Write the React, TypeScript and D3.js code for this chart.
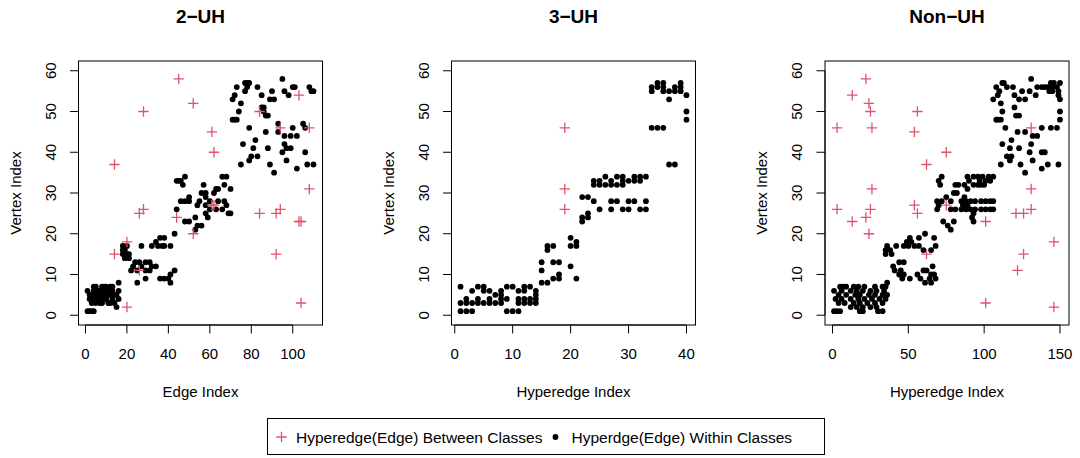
import React from "react";
import * as d3 from "d3";

type Pt = [number, number];

// Labels and ticks
const panelTitles = ["2−UH", "3−UH", "Non−UH"];
const xAxisTitles = ["Edge Index", "Hyperedge Index", "Hyperedge Index"];
const yAxisTitle = "Vertex Index";
const xTicks2UH = [0, 20, 40, 60, 80, 100];
const xTicks3UH = [0, 10, 20, 30, 40];
const xTicksNonUH = [0, 50, 100, 150];
const yTicks = [0, 10, 20, 30, 40, 50, 60];
const legendLabels = ["Hyperedge(Edge) Between Classes", "Hyperdge(Edge) Within Classes"];

// Edge count per panel (x range of data)
const edgeCounts = [110, 40, 150];

// 2-UH: [edge index, vertex index]
const uh2Within: Pt[] = [
  [1, 1], [2, 1], [3, 1], [4, 1], [1, 6], [2, 4], [2, 5], [4, 7], [5, 7], [8, 7], [10, 7], [12, 7],
  [4, 6], [7, 6], [9, 6], [11, 6], [13, 6], [16, 6], [3, 5], [6, 5], [8, 5], [12, 5], [15, 5],
  [4, 4], [8, 4], [10, 4], [13, 4], [16, 4], [5, 3], [7, 3], [8, 3], [11, 3], [14, 3], [15, 2],
  [16, 8], [6, 6], [9, 4], [11, 5], [13, 7], [3, 3], [6, 4], [10, 5], [12, 3], [14, 5], [5, 5], [9, 7],
  [18, 16], [18, 17], [20, 15], [21, 15], [20, 17], [19, 16], [18, 15], [27, 17], [24, 13], [26, 13],
  [29, 13], [31, 13], [22, 11], [25, 11], [29, 11], [31, 11], [25, 8], [29, 9], [32, 12], [34, 12],
  [23, 12], [27, 12], [36, 9], [38, 9], [41, 10], [43, 11], [41, 8], [40, 9], [32, 17], [34, 18],
  [36, 19], [38, 19], [38, 17], [41, 17], [37, 17], [35, 17], [43, 20], [19, 14], [21, 14],
  [44, 26], [46, 28], [48, 28], [50, 29], [50, 23], [48, 23], [53, 24], [54, 22], [53, 21], [56, 22],
  [54, 27], [56, 30], [58, 29], [58, 25], [60, 26], [59, 24], [62, 30], [64, 28], [63, 26], [66, 26],
  [67, 28], [69, 25], [70, 25], [58, 27], [50, 28], [55, 28], [60, 28], [68, 27], [44, 33], [45, 33],
  [48, 34], [47, 32], [57, 32], [58, 30], [64, 31], [66, 34], [68, 34], [67, 32], [63, 31], [70, 31],
  [46, 33],
  [73, 56], [72, 54], [71, 53], [77, 57], [79, 57], [78, 56], [77, 55], [83, 56], [85, 54], [90, 55],
  [89, 53], [91, 53], [75, 52], [74, 50], [71, 48], [73, 48], [86, 51], [87, 49], [88, 49], [85, 51],
  [79, 46], [76, 42], [81, 41], [82, 43], [87, 45], [88, 41], [80, 39], [83, 39], [79, 38], [75, 37],
  [89, 37], [91, 35], [93, 47], [93, 45], [96, 44], [99, 44], [102, 44], [96, 42], [97, 41], [99, 41],
  [95, 40], [97, 38], [102, 36], [100, 46], [105, 47], [106, 40], [107, 37], [110, 37], [95, 58],
  [96, 55], [98, 54], [100, 56], [101, 56], [108, 56], [109, 55], [110, 55], [78, 57], [72, 48],
  [106, 46], [86, 50],
];
const uh2Between: Pt[] = [
  [45, 58], [28, 50], [52, 52], [61, 45], [62, 40], [14, 37], [103, 54], [84, 50], [94, 46], [108, 46],
  [108, 31], [28, 26], [26, 25], [61, 27], [62, 27], [44, 24], [52, 20], [20, 18], [14, 15], [26, 11],
  [20, 2], [84, 25], [92, 25], [94, 26], [103, 23], [104, 23], [92, 15], [104, 3],
];

// 3-UH
const uh3Within: Pt[] = [
  [1, 1], [2, 1], [3, 1], [9, 1], [10, 1], [11, 1],
  [1, 3], [2, 3], [3, 3], [4, 3], [5, 3], [6, 3], [7, 3], [8, 3], [11, 3], [12, 3], [13, 3], [14, 3],
  [2, 4], [4, 4], [6, 4], [8, 4], [9, 4], [11, 4], [12, 4], [13, 4], [14, 4],
  [7, 5], [8, 5], [14, 5],
  [3, 6], [5, 6], [6, 6], [8, 6], [11, 6], [12, 6], [14, 6],
  [1, 7], [4, 7], [5, 7], [9, 7], [10, 7], [12, 7], [13, 7],
  [15, 8], [16, 8], [17, 9], [18, 9], [21, 9], [18, 10], [15, 11], [20, 12], [15, 13], [17, 13], [18, 13],
  [16, 16], [16, 17], [17, 17], [20, 17], [21, 17], [21, 18], [20, 19],
  [22, 23], [22, 24], [23, 24], [23, 25], [22, 29], [23, 29],
  [25, 26], [27, 26], [29, 26], [30, 26], [32, 26], [33, 26],
  [24, 28], [27, 28], [28, 28], [30, 28], [31, 28], [33, 28],
  [24, 32], [25, 32], [26, 32], [27, 32], [28, 32], [29, 32],
  [24, 33], [25, 33], [27, 33], [29, 33], [30, 33], [31, 33], [32, 33],
  [26, 34], [28, 34], [29, 34], [31, 34], [32, 34], [33, 34],
  [34, 46], [35, 46], [36, 46], [37, 37], [38, 37],
  [34, 55], [36, 55], [37, 55], [38, 55], [39, 55], [34, 56], [35, 56], [36, 56], [38, 56], [39, 56],
  [35, 57], [36, 57], [39, 57], [37, 53], [40, 54], [40, 50], [40, 48],
];
const uh3Between: Pt[] = [[19, 26], [19, 31], [19, 46]];

// Non-UH
const nonUhWithin: Pt[] = [
  [1, 6], [2, 4], [1, 1], [3, 1], [5, 1], [18, 1], [20, 1], [30, 1], [33, 1],
  [5, 7], [7, 7], [9, 7], [14, 7], [17, 7], [21, 7], [28, 7], [33, 7], [35, 7],
  [6, 6], [12, 6], [16, 6], [20, 6], [25, 6], [29, 6], [34, 6],
  [4, 5], [9, 5], [15, 5], [18, 5], [24, 5], [28, 5], [33, 5], [36, 5],
  [6, 4], [12, 4], [17, 4], [21, 4], [26, 4], [31, 4], [35, 4],
  [4, 3], [8, 3], [14, 3], [18, 3], [23, 3], [28, 3], [33, 3],
  [12, 2], [16, 2], [20, 2], [25, 2], [29, 2], [36, 8],
  [38, 16], [36, 17], [39, 15], [35, 16], [42, 17], [49, 18], [51, 19], [52, 18], [57, 17], [61, 20],
  [57, 19], [67, 19], [68, 17], [65, 16], [60, 16], [50, 17], [54, 17], [47, 17], [35, 15],
  [40, 12], [44, 13], [47, 13], [45, 11], [44, 10], [46, 9], [51, 9], [56, 10], [58, 9], [61, 8],
  [64, 9], [60, 11], [66, 12], [65, 10], [68, 9], [65, 8], [41, 11], [47, 10], [62, 11], [67, 10],
  [69, 28], [70, 27], [69, 26], [72, 28], [75, 29], [78, 28], [80, 30], [82, 30], [85, 28], [87, 29],
  [88, 28], [91, 28], [94, 28], [98, 28], [101, 28], [104, 28], [106, 28], [78, 26], [81, 26],
  [85, 26], [88, 26], [91, 26], [94, 26], [98, 26], [101, 26], [104, 26], [106, 26], [73, 23],
  [76, 22], [78, 21], [80, 23], [93, 25], [93, 23], [92, 24], [89, 27], [86, 27],
  [70, 33], [72, 34], [71, 32], [81, 32], [83, 32], [87, 32], [89, 34], [90, 33], [93, 34], [96, 34],
  [97, 33], [99, 34], [101, 33], [103, 34], [104, 33], [106, 34], [93, 32], [98, 32], [100, 32],
  [96, 32], [89, 31],
  [108, 48], [111, 48], [106, 53], [109, 54], [110, 55], [108, 56], [112, 57], [113, 57], [115, 56],
  [119, 56], [120, 54], [125, 55], [130, 55], [131, 58], [134, 54], [135, 56], [138, 56], [140, 56],
  [142, 56], [144, 57], [146, 57], [150, 57], [143, 55], [149, 55], [150, 53], [123, 53], [127, 53],
  [111, 52], [112, 50], [120, 51], [121, 49], [123, 49], [150, 50], [150, 48], [114, 46], [122, 45],
  [127, 45], [132, 44], [135, 44], [138, 46], [144, 46], [148, 46], [112, 42], [118, 43], [117, 41],
  [123, 41], [131, 42], [130, 40], [138, 40], [140, 40], [115, 39], [118, 39], [117, 38], [111, 37],
  [124, 37], [132, 38], [138, 36], [142, 37], [149, 37], [127, 35], [145, 56], [148, 56], [145, 55],
  [149, 54], [109, 48],
];
const nonUhBetween: Pt[] = [
  [22, 58], [13, 54], [24, 52], [25, 50], [3, 46], [26, 46], [56, 50], [54, 45], [75, 40], [62, 37],
  [26, 31], [131, 46], [131, 31], [3, 26], [25, 26], [13, 23], [22, 24], [24, 20], [54, 27], [56, 25],
  [75, 27], [62, 15], [101, 23], [101, 3], [121, 25], [126, 25], [131, 26], [146, 18], [126, 15],
  [122, 11], [146, 2],
];

const W = 1080;
const H = 458;
const RED = "#DF536B";
const FONT = "'Liberation Sans', Arial, Helvetica, sans-serif";
const AXIS_FS = 15;
const plotTop = 61;
const plotBottom = 325;
const panelLefts = [78.5, 451.5, 825];
const panelWidth = 244;

const panelData = [
  { within: uh2Within, between: uh2Between, xTicks: xTicks2UH },
  { within: uh3Within, between: uh3Between, xTicks: xTicks3UH },
  { within: nonUhWithin, between: nonUhBetween, xTicks: xTicksNonUH },
];

// R-style 4% axis padding
const pad = (lo: number, hi: number): [number, number] => {
  const d = (hi - lo) * 0.04;
  return [lo - d, hi + d];
};

function Plus({ x, y, s = 5.2 }: { x: number; y: number; s?: number }) {
  return (
    <path
      d={`M${x - s},${y}H${x + s}M${x},${y - s}V${y + s}`}
      stroke={RED}
      strokeWidth={1.3}
      fill="none"
    />
  );
}

function Panel({ i }: { i: number }) {
  const { within, between, xTicks } = panelData[i];
  const left = panelLefts[i];
  const right = left + panelWidth;
  const x = d3.scaleLinear().domain(pad(1, edgeCounts[i])).range([left, right]);
  const y = d3.scaleLinear().domain(pad(0, 60)).range([plotBottom, plotTop]);
  const cx = (left + right) / 2;
  const cy = (plotTop + plotBottom) / 2;
  const tick = 8.5;
  return (
    <g>
      <text x={cx} y={23} textAnchor="middle" fontWeight="bold" fontSize={19} fontFamily={FONT}>
        {panelTitles[i]}
      </text>
      <rect x={left} y={plotTop} width={right - left} height={plotBottom - plotTop} fill="none" stroke="#000" strokeWidth={1} />
      {/* x axis */}
      <path d={`M${x(xTicks[0])},${plotBottom}H${x(xTicks[xTicks.length - 1])}`} stroke="#000" />
      {xTicks.map((t) => (
        <g key={`xt${t}`}>
          <line x1={x(t)} x2={x(t)} y1={plotBottom} y2={plotBottom + tick} stroke="#000" />
          <text x={x(t)} y={358.5} textAnchor="middle" fontSize={AXIS_FS} fontFamily={FONT}>
            {t}
          </text>
        </g>
      ))}
      <text x={cx} y={396.5} textAnchor="middle" fontSize={AXIS_FS} fontFamily={FONT}>
        {xAxisTitles[i]}
      </text>
      {/* y axis */}
      <path d={`M${left},${y(yTicks[0])}V${y(yTicks[yTicks.length - 1])}`} stroke="#000" />
      {yTicks.map((t) => (
        <g key={`yt${t}`}>
          <line x1={left - tick} x2={left} y1={y(t)} y2={y(t)} stroke="#000" />
          <text
            transform={`translate(${left - 23},${y(t)}) rotate(-90)`}
            textAnchor="middle"
            fontSize={AXIS_FS}
            fontFamily={FONT}
          >
            {t}
          </text>
        </g>
      ))}
      <text
        transform={`translate(${left - 58},${cy}) rotate(-90)`}
        textAnchor="middle"
        fontSize={AXIS_FS}
        fontFamily={FONT}
      >
        {yAxisTitle}
      </text>
      {within.map(([e, v], k) => (
        <circle key={`w${k}`} cx={x(e)} cy={y(v)} r={2.9} fill="#000" />
      ))}
      {between.map(([e, v], k) => (
        <Plus key={`b${k}`} x={x(e)} y={y(v)} />
      ))}
    </g>
  );
}

export default function App() {
  return (
    <svg
      width={W}
      height={H}
      viewBox={`0 0 ${W} ${H}`}
      style={{ position: "fixed", left: 0, top: 0, background: "#fff" }}
    >
      <rect width={W} height={H} fill="#fff" />
      {[0, 1, 2].map((i) => (
        <Panel key={i} i={i} />
      ))}
      {/* legend */}
      <rect x={267.5} y={418.5} width={557} height={36} fill="#fff" stroke="#000" />
      <Plus x={281.5} y={437} />
      <text x={296} y={442.5} fontSize={15.5} fontFamily={FONT}>
        {legendLabels[0]}
      </text>
      <circle cx={555.5} cy={437} r={2.9} fill="#000" />
      <text x={571.5} y={442.5} fontSize={15.5} fontFamily={FONT}>
        {legendLabels[1]}
      </text>
    </svg>
  );
}
